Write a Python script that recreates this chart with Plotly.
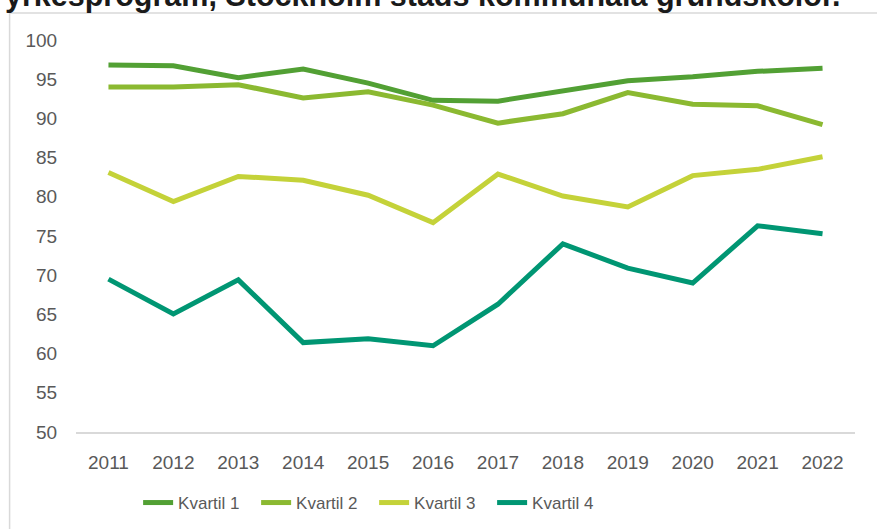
import plotly.graph_objects as go

years = ["2011", "2012", "2013", "2014", "2015", "2016", "2017", "2018", "2019", "2020", "2021", "2022"]
kvartil_1 = [96.8, 96.7, 95.2, 96.3, 94.5, 92.3, 92.2, 93.5, 94.8, 95.3, 96.0, 96.4]
kvartil_2 = [94.0, 94.0, 94.3, 92.6, 93.4, 91.7, 89.4, 90.6, 93.3, 91.8, 91.6, 89.2]
kvartil_3 = [83.1, 79.4, 82.6, 82.1, 80.2, 76.7, 82.9, 80.1, 78.7, 82.7, 83.5, 85.1]
kvartil_4 = [69.5, 65.05, 69.4, 61.4, 61.9, 61.0, 66.3, 74.0, 70.9, 69.0, 76.3, 75.3]
y_ticks = [50, 55, 60, 65, 70, 75, 80, 85, 90, 95, 100]
series = [("Kvartil 1", kvartil_1, "#52a034"),
          ("Kvartil 2", kvartil_2, "#8bb931"),
          ("Kvartil 3", kvartil_3, "#c4d239"),
          ("Kvartil 4", kvartil_4, "#009673")]

fig = go.Figure()
for name, vals, col in series:
    fig.add_trace(go.Scatter(x=years, y=vals, name=name, mode="lines",
                             line=dict(color=col, width=5)))

W, H = 877, 529
ml, mr, mt, mb = 75.5, 21.5, 40, 97
pw, ph = W - ml - mr, H - mt - mb

def px_x(p):
    return (p - ml) / pw

def px_y(p):
    return 1 - (p - mt) / ph

fig.update_layout(
    width=W, height=H,
    margin=dict(l=ml, r=mr, t=mt, b=mb, autoexpand=False),
    paper_bgcolor="white", plot_bgcolor="white",
    font=dict(family="Liberation Sans, Arial, sans-serif", size=19, color="#595959"),
    showlegend=True,
    legend=dict(orientation="h", x=px_x(374), xanchor="center", y=px_y(503), yanchor="middle",
                font=dict(size=17, color="#595959"), entrywidth=73, traceorder="normal"),
    xaxis=dict(type="category", showgrid=False, showline=True, linecolor="#d9d9d9",
               linewidth=1.5, ticks="outside", ticklen=12, tickcolor="rgba(0,0,0,0)",
               tickfont=dict(size=19, color="#595959"), range=[-0.5, 11.5]),
    yaxis=dict(range=[50, 100], tickvals=y_ticks, showgrid=False, zeroline=False,
               showline=False, ticks="outside", ticklen=14, tickcolor="rgba(0,0,0,0)",
               tickfont=dict(size=19, color="#595959")),
    shapes=[dict(type="rect", xref="paper", yref="paper",
                 x0=px_x(9), x1=px_x(900), y0=px_y(560), y1=px_y(13),
                 line=dict(color="#d9d9d9", width=1.5), fillcolor="rgba(0,0,0,0)", layer="below")],
    annotations=[dict(text="<b>yrkesprogram, Stockholm stads kommunala grundskolor.</b>",
                      xref="paper", yref="paper", x=px_x(2), xanchor="left",
                      y=px_y(15), yanchor="bottom", showarrow=False,
                      font=dict(size=30.5, color="#1a1a1a", family="Liberation Sans, Arial, sans-serif"))],
)

fig.write_html("out.html", config={"displayModeBar": False},
               post_script="document.body.style.margin='0';document.body.style.overflow='hidden';")
